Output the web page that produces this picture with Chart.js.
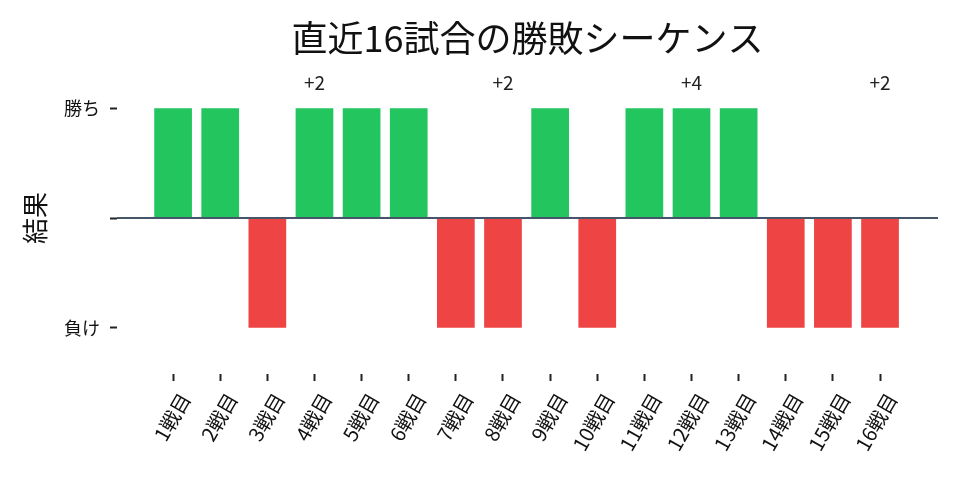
<!DOCTYPE html>
<html>
<head>
<meta charset="utf-8">
<script src="https://cdn.jsdelivr.net/npm/chart.js"></script>
<style>
  html, body { margin: 0; padding: 0; background: #fff; }
  #wrap { width: 960px; height: 480px; }
</style>
</head>
<body>
<div id="wrap"><canvas id="c"></canvas></div>
<script>
  // ─── DATA ─────────────────────────────────────────────────────────────────
  const titleText = '直近16試合の勝敗シーケンス';
  const games = ['1戦目', '2戦目', '3戦目', '4戦目', '5戦目', '6戦目', '7戦目', '8戦目',
                 '9戦目', '10戦目', '11戦目', '12戦目', '13戦目', '14戦目', '15戦目', '16戦目'];
  const results = [1, 1, -1, 1, 1, 1, -1, -1, 1, -1, 1, 1, 1, -1, -1, -1];
  // 4試合ごとの累積
  const markGames = [4, 8, 12, 16];
  const markLabels = ['+2', '+2', '+4', '+2'];
  const yTickLabels = { '1': '勝ち', '0': '', '-1': '負け' };

  const WIN = '#22c55e';
  const LOSS = '#ef4444';
  const FONT = "'Noto Sans CJK JP', 'Noto Sans', sans-serif";

  const points = results.map((v, i) => ({ x: i, y: v }));

  // ゼロ線 + 累積ラベル + タイトル（プロット中央に合わせる）
  const overlay = {
    id: 'overlay',
    afterDatasetsDraw(chart) {
      const { ctx, chartArea, scales: { x, y } } = chart;
      const y0 = y.getPixelForValue(0);
      ctx.save();
      ctx.strokeStyle = '#475569';
      ctx.lineWidth = 2;
      ctx.beginPath();
      ctx.moveTo(x.left, y0);
      ctx.lineTo(x.right, y0);
      ctx.stroke();
      ctx.fillStyle = '#222';
      ctx.font = '19px ' + FONT;
      ctx.textAlign = 'center';
      ctx.textBaseline = 'middle';
      markGames.forEach((g, i) => {
        ctx.fillText(markLabels[i], x.getPixelForValue(g - 1), y.getPixelForValue(1.23));
      });
      ctx.fillStyle = '#111';
      ctx.font = '36px ' + FONT;
      ctx.fillText(titleText, (chartArea.left + chartArea.right) / 2, 38);
      ctx.restore();
    }
  };

  new Chart(document.getElementById('c'), {
    type: 'bar',
    data: {
      datasets: [{
        data: points,
        backgroundColor: results.map(v => v > 0 ? WIN : LOSS),
        barPercentage: 0.8,
        categoryPercentage: 1.0,
        borderWidth: 0,
      }],
    },
    options: {
      responsive: true,
      maintainAspectRatio: false,
      animation: false,
      layout: { padding: { left: 0, right: 22, top: 62, bottom: 0 } },
      plugins: {
        legend: { display: false },
        tooltip: { enabled: false },
        title: { display: false },
      },
      scales: {
        x: {
          type: 'linear',
          min: -1.19,
          max: 16.23,
          offset: false,
          grid: { display: true, offset: false, drawOnChartArea: false, drawTicks: true, tickLength: 7, tickColor: '#222', tickWidth: 2 },
          border: { display: false },
          afterBuildTicks(s) { s.ticks = games.map((_, i) => ({ value: i })); },
          afterFit(s) { s.height = 106; },
          ticks: {
            autoSkip: false,
            maxRotation: 60,
            minRotation: 60,
            color: '#111',
            padding: 8,
            labelOffset: 12,
            font: { family: FONT, size: 20 },
            callback: (v) => games[v] || '',
          },
        },
        y: {
          min: -1.42,
          max: 1.42,
          grid: { display: true, drawOnChartArea: false, drawTicks: true, tickLength: 7, tickColor: '#222', tickWidth: 2 },
          border: { display: false },
          afterBuildTicks(s) { s.ticks = [{ value: -1 }, { value: 0 }, { value: 1 }]; },
          afterFit(s) { s.width = 117; },
          title: {
            display: true,
            text: '結果',
            color: '#111',
            font: { family: FONT, size: 26 },
            padding: { top: 20, bottom: 0 },
          },
          ticks: {
            color: '#111',
            padding: 10,
            font: { family: FONT, size: 18 },
            callback: (v) => yTickLabels[String(v)],
          },
        },
      },
    },
    plugins: [overlay],
  });
</script>
</body>
</html>
